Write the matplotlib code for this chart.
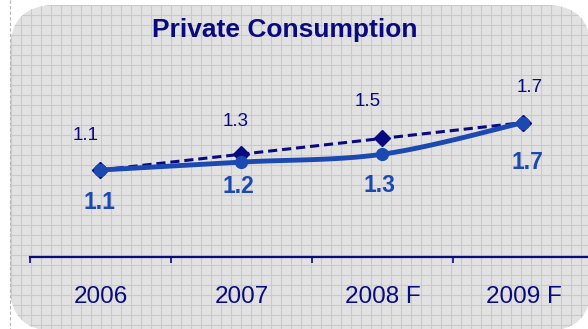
import numpy as np
import matplotlib
matplotlib.use("Agg")
import matplotlib.pyplot as plt
from matplotlib.patches import FancyBboxPatch

plt.rcParams['font.family'] = ['Liberation Sans', 'DejaVu Sans']

# ---- data ----
years = ["2006", "2007", "2008 F", "2009 F"]
dashed_series = [1.1, 1.3, 1.5, 1.7]
solid_series = [1.1, 1.2, 1.3, 1.7]
title = "Private Consumption"

# ---- styling ----
NAVY = "#0a0a80"
BLUE = "#1c48b2"
BG = "#e2e2e2"
GRID = "#cacaca"

W, H, DPI = 588, 329, 100
fig = plt.figure(figsize=(W / DPI, H / DPI), dpi=DPI)
fig.patch.set_facecolor("white")

# background panel in pixel coordinates
bg = fig.add_axes([0, 0, 1, 1], zorder=0)
bg.set_xlim(0, W)
bg.set_ylim(H, 0)
bg.axis("off")
bg.plot([10, 10], [0, H], color="#b4b4b4", lw=0.8, ls=(0, (3, 2)))
panel = FancyBboxPatch((10, 5), 581, 326,
                       boxstyle="round,pad=0,rounding_size=45",
                       facecolor=BG, edgecolor="none", zorder=1)
bg.add_patch(panel)
for gx in np.arange(10.5, W + 10, 10):
    ln = bg.plot([gx, gx], [0, H], color=GRID, lw=0.8, zorder=2)[0]
    ln.set_clip_path(panel)
for gy in np.arange(5, H + 10, 10):
    ln = bg.plot([0, W], [gy, gy], color=GRID, lw=0.8, zorder=2)[0]
    ln.set_clip_path(panel)

# plotting axes
ax_left, ax_right, ax_bottom = 30, 594, 257
ymax = 2.5
px_per_unit = 79.08
ax_h = ymax * px_per_unit
ax = fig.add_axes([ax_left / W, (H - ax_bottom) / H,
                   (ax_right - ax_left) / W, ax_h / H], zorder=2)
ax.patch.set_alpha(0)
ax.set_xlim(-0.5, len(years) - 0.5)
ax.set_ylim(0, ymax)
for s in ["top", "right", "left"]:
    ax.spines[s].set_visible(False)
ax.spines["bottom"].set_color(NAVY)
ax.spines["bottom"].set_linewidth(1.6)
ax.set_yticks([])
ax.set_xticks(np.arange(len(years) + 1) - 0.5)
ax.set_xticklabels([])
ax.tick_params(axis="x", direction="out", length=4.5, width=1.2, color=NAVY)

x = np.arange(len(years))

# dashed series
ax.plot(x, dashed_series, color=NAVY, lw=2.2, ls=(0, (3, 1.6)),
        marker="D", markersize=7.8, markerfacecolor=NAVY,
        markeredgecolor=NAVY, clip_on=False, zorder=3)


# smoothed solid series (Catmull-Rom through the points)
def catmull_rom(xs, ys, n=40):
    pts = np.column_stack([xs, ys]).astype(float)
    p = np.vstack([pts[0], pts, pts[-1]])
    out = []
    for i in range(1, len(p) - 2):
        p0, p1, p2, p3 = p[i - 1], p[i], p[i + 1], p[i + 2]
        t = np.linspace(0, 1, n)[:, None]
        seg = 0.5 * ((2 * p1) + (-p0 + p2) * t +
                     (2 * p0 - 5 * p1 + 4 * p2 - p3) * t ** 2 +
                     (-p0 + 3 * p1 - 3 * p2 + p3) * t ** 3)
        out.append(seg)
    c = np.vstack(out)
    return c[:, 0], c[:, 1]


sx, sy = catmull_rom(x, solid_series)
ax.plot(sx, sy, color=BLUE, lw=3.5, solid_capstyle="round",
        clip_on=False, zorder=4)
ax.plot(x, solid_series, ls="none", marker="o", markersize=8.5,
        color=BLUE, clip_on=False, zorder=5)

# value labels (offsets in points)
dashed_offsets = [(-10.4, 21.6), (-4.3, 20.3), (-10.4, 23.3), (4.3, 22.0)]
solid_offsets = [(-1.1, -28.1), (-2.5, -22.2), (-2.5, -27.2), (2.5, -33.4)]
for xi, v, off in zip(x, dashed_series, dashed_offsets):
    ax.annotate(f"{v:.1f}", (xi, v), xytext=off, textcoords="offset points",
                ha="center", va="baseline", fontsize=13.5, color=NAVY,
                annotation_clip=False)
for xi, v, off in zip(x, solid_series, solid_offsets):
    ax.annotate(f"{v:.1f}", (xi, v), xytext=off, textcoords="offset points",
                ha="center", va="baseline", fontsize=16.5, color=BLUE,
                fontweight="bold", annotation_clip=False)

# category labels
for xi, lab in zip(x, years):
    ax.annotate(lab, (xi, 0), xytext=(0, -46 * 0.72), textcoords="offset points",
                ha="center", va="baseline", fontsize=17.5, color=NAVY,
                annotation_clip=False)

fig.text(285 / W, 1 - 37 / H, title, ha="center", va="baseline",
         fontsize=19, fontweight="bold", color=NAVY)

fig.savefig("out.png", dpi=DPI)
